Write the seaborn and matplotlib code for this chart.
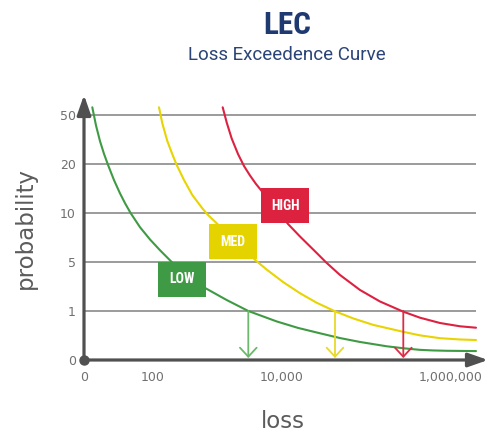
import numpy as np
import pandas as pd
import matplotlib
matplotlib.use("Agg")
import matplotlib.pyplot as plt
import matplotlib.font_manager as fm
from matplotlib.patches import Rectangle
import seaborn as sns

# ---- data (schematic positions) ----
x_tick_pos = [0, 69, 198, 367]
x_tick_labels = ["0", "100", "10,000", "1,000,000"]
y_tick_pos = [0, 1, 2, 3, 4, 5]
y_tick_labels = ["0", "1", "5", "10", "20", "50"]

low_x = [8.3, 12, 16, 20, 24, 30, 36, 41, 46.7, 56, 66, 76, 87.7,
         121.7, 142.7, 164.3, 192.7, 214, 236, 256, 276, 302.7, 319.3, 336, 349, 362.7, 392]
low_y = [5.157, 4.787, 4.467, 4.207, 3.983, 3.671, 3.401, 3.201, 2.996, 2.710, 2.460, 2.240, 2.000,
         1.463, 1.224, 1.000, 0.787, 0.655, 0.545, 0.448, 0.368, 0.280, 0.240, 0.207, 0.195, 0.188, 0.182]

med_x = [75, 78.3, 83.3, 88.3, 92.7, 100, 108.3, 118.3, 124,
         172, 182.7, 199.3, 216, 232.7, 251, 269.3, 289.3, 319.3, 336, 356, 376, 392]
med_y = [5.157, 4.831, 4.470, 4.200, 3.980, 3.673, 3.367, 3.096, 2.959,
         2.027, 1.845, 1.588, 1.363, 1.168, 0.994, 0.848, 0.716, 0.575, 0.503, 0.445, 0.419, 0.408]

high_x = [138.7, 142.7, 147.7, 154, 160, 166, 172, 177.7,
          204, 216, 232.7, 242, 256, 276, 296, 319.3, 336, 356, 376, 392]
high_y = [5.157, 4.847, 4.520, 4.204, 3.959, 3.765, 3.592, 3.449,
          2.776, 2.520, 2.184, 1.994, 1.735, 1.429, 1.194, 0.986, 0.863, 0.755, 0.688, 0.659]

series = ["LOW", "MED", "HIGH"]
arrow_x = [164.3, 251, 319.3]          # loss at the "1" probability level
label_x = [98, 149, 201]               # label box centres
label_y = [1.643, 2.414, 3.147]

line_colors = {"LOW": "#3f9b43", "MED": "#e8d400", "HIGH": "#dd2140"}
arrow_colors = {"LOW": "#6cb86c", "MED": "#e9d92a", "HIGH": "#de2a45"}
box_colors = {"LOW": "#3e9a44", "MED": "#e5d300", "HIGH": "#dd2240"}

df = pd.concat([
    pd.DataFrame({"loss": low_x, "prob": low_y, "risk": "LOW"}),
    pd.DataFrame({"loss": med_x, "prob": med_y, "risk": "MED"}),
    pd.DataFrame({"loss": high_x, "prob": high_y, "risk": "HIGH"}),
], ignore_index=True)

sns.set_theme(style="white")
plt.rcParams["font.family"] = ["DejaVu Sans"]

# pick a condensed face if one is installed
cond_family, cond_stretch = "DejaVu Sans", "normal"
fnames = [(f.name, f.fname) for f in fm.fontManager.ttflist]
for name, path in fnames:
    if "RobotoCondensed" in path.replace(" ", "") or "Roboto Condensed" in name:
        cond_family, cond_stretch = name, "normal"
        break
else:
    for name, path in fnames:
        if "LiberationSansNarrow" in path.replace(" ", ""):
            cond_family, cond_stretch = name, "normal"
            break
    else:
        for name, path in fnames:
            if "DejaVuSansCondensed" in path:
                cond_family, cond_stretch = "DejaVu Sans", "condensed"
                break
sub_family = "Roboto" if any(n == "Roboto" for n, _ in fnames) else cond_family

W, H = 490, 432
fig = plt.figure(figsize=(W / 100, H / 100), dpi=100)
ax = fig.add_axes([84 / W, (H - 360) / H, (488 - 84) / W, (360 - 95) / H])
ax.set_xlim(0, 404)
ax.set_ylim(0, 265 / 49)
for s in ax.spines.values():
    s.set_visible(False)

# grid lines
ax.hlines([1, 2, 3, 4, 5], 0, 392, color="#8a8a8a", lw=1.2, zorder=1)

sns.lineplot(data=df, x="loss", y="prob", hue="risk", palette=line_colors,
             sort=False, estimator=None, lw=1.5, legend=False, ax=ax, zorder=3)
for ln in ax.lines:
    ln.set_solid_joinstyle("round")

axis_col = "#505050"
for tip in [(0, 265 / 49), (404, 0)]:
    ax.annotate("", xy=tip, xytext=(0, 0), annotation_clip=False,
                arrowprops=dict(arrowstyle="-|>,head_length=0.8,head_width=0.28",
                                mutation_scale=15, color=axis_col, lw=2.3,
                                shrinkA=0, shrinkB=0), zorder=6)
ax.plot([0], [0], "o", ms=6.5, color=axis_col, clip_on=False, zorder=7)

# drop arrows
for k, xv in zip(series, arrow_x):
    ax.annotate("", xy=(xv, 0.04), xytext=(xv, 1.0), annotation_clip=False,
                arrowprops=dict(arrowstyle="->,head_length=0.65,head_width=0.6",
                                mutation_scale=10, color=arrow_colors[k], lw=1.3,
                                shrinkA=0, shrinkB=0), zorder=4)

# label boxes
bw, bh = 48, 35 / 49
for k, cx, cy in zip(series, label_x, label_y):
    ax.add_patch(Rectangle((cx - bw / 2, cy - bh / 2), bw, bh, facecolor=box_colors[k],
                           edgecolor="none", zorder=5))
    ax.text(cx, cy, k, color="white", ha="center", va="center", fontsize=10,
            fontweight="bold", zorder=6, family=cond_family, fontstretch=cond_stretch)

ax.set_xticks(x_tick_pos)
ax.set_xticklabels(x_tick_labels)
ax.set_yticks(y_tick_pos)
ax.set_yticklabels(y_tick_labels)
ax.tick_params(axis="both", length=0, labelsize=9, labelcolor="#707070")
ax.tick_params(axis="x", pad=8)
ax.tick_params(axis="y", pad=6)
ax.set_xlabel("")
ax.set_ylabel("")

fig.text(25 / W, 1 - 228 / H, "probability", rotation=90, ha="center", va="center",
         fontsize=16.5, color="#5c5c5c")
fig.text(283 / W, 1 - 421 / H, "loss", ha="center", va="center",
         fontsize=16.5, color="#5c5c5c")

fig.text(287 / W, 1 - 25 / H, "LEC", ha="center", va="center", fontsize=22.5,
         fontweight="bold", color="#1f3a70", family=cond_family, fontstretch=cond_stretch)
fig.text(287 / W, 1 - 55 / H, "Loss Exceedence Curve", ha="center", va="center",
         fontsize=13.5, color="#2a4478", family=sub_family)

fig.savefig("out.png", dpi=100)
